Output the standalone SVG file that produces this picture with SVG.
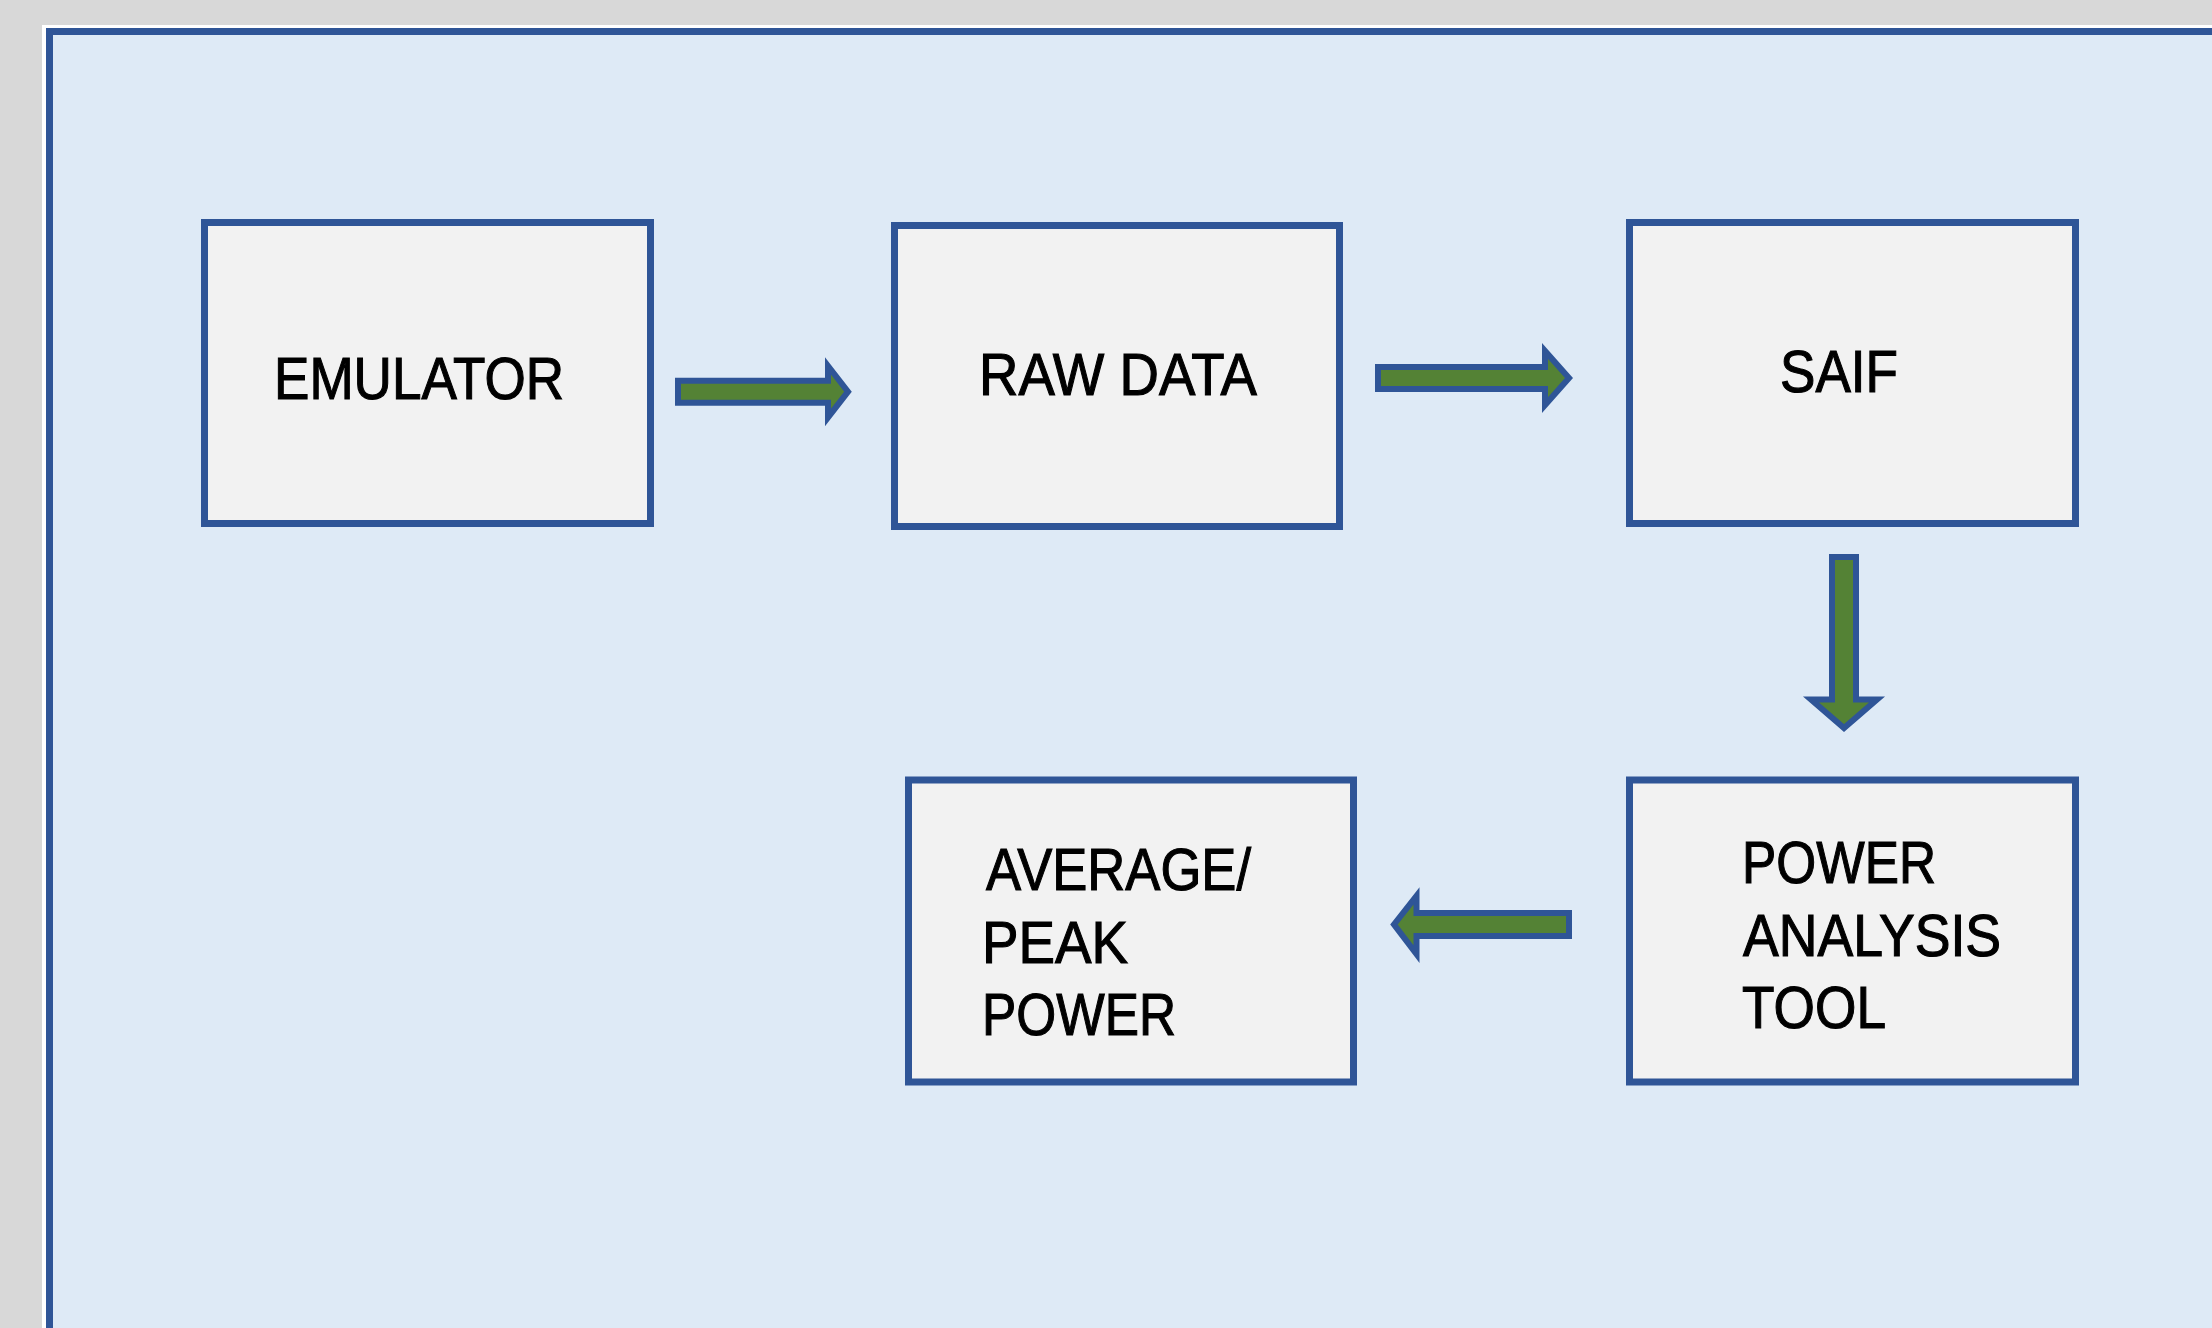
<svg xmlns="http://www.w3.org/2000/svg" width="2212" height="1328" viewBox="0 0 2212 1328">
  <style>
    .box { fill: #f2f2f2; stroke: #2f5597; stroke-width: 7; }
    .arrow { fill: #548235; stroke: #2f5597; stroke-width: 6; stroke-linejoin: miter; }
    .label { font-family: "Liberation Sans", Arial, sans-serif; font-size: 59px; fill: #000000; stroke: #000000; stroke-width: 1.1; }
  </style>

  <!-- page background and framed panel -->
  <rect x="0" y="0" width="2212" height="1328" fill="#d8d8d8"/>
  <rect x="42" y="25" width="2170" height="1303" fill="#ffffff"/>
  <rect x="49.5" y="31.5" width="2200" height="1340" fill="#deeaf6" stroke="#2f5597" stroke-width="7"/>

  <!-- connectors: block arrows -->
  <g id="connectors">
    <polygon class="arrow" points="678,380.7 828,380.7 828,366 848,391.7 828,417.4 828,402.7 678,402.7"/>
    <polygon class="arrow" points="1378,367 1545,367 1545,351 1569,378 1545,405 1545,389 1378,389"/>
    <polygon class="arrow" points="1832,557 1856,557 1856,699.5 1877,699.5 1844,728 1811,699.5 1832,699.5"/>
    <polygon class="arrow" points="1569,913 1416.5,913 1416.5,896 1394,924.5 1416.5,954 1416.5,936 1569,936"/>
  </g>

  <g id="emulator">
    <rect class="box" x="204.5" y="222.5" width="446" height="301"/>
    <text class="label" x="274" y="399" textLength="290" lengthAdjust="spacingAndGlyphs">EMULATOR</text>
  </g>

  <g id="raw-data">
    <rect class="box" x="894.5" y="225.5" width="445" height="301"/>
    <text class="label" x="979" y="395" textLength="278" lengthAdjust="spacingAndGlyphs">RAW DATA</text>
  </g>

  <g id="saif">
    <rect class="box" x="1629.5" y="222.5" width="446" height="301"/>
    <text class="label" x="1780" y="392" textLength="118" lengthAdjust="spacingAndGlyphs">SAIF</text>
  </g>

  <g id="power-analysis-tool">
    <rect class="box" x="1629.5" y="780" width="446" height="302"/>
    <text class="label" x="1742" y="883" textLength="194" lengthAdjust="spacingAndGlyphs">POWER</text>
    <text class="label" x="1743" y="956" textLength="258" lengthAdjust="spacingAndGlyphs">ANALYSIS</text>
    <text class="label" x="1742" y="1028" textLength="144" lengthAdjust="spacingAndGlyphs">TOOL</text>
  </g>

  <g id="average-peak-power">
    <rect class="box" x="908.5" y="780" width="445" height="302"/>
    <text class="label" x="986" y="890" textLength="265" lengthAdjust="spacingAndGlyphs">AVERAGE/</text>
    <text class="label" x="982" y="962.7" textLength="146" lengthAdjust="spacingAndGlyphs">PEAK</text>
    <text class="label" x="982" y="1035" textLength="194" lengthAdjust="spacingAndGlyphs">POWER</text>
  </g>
</svg>
